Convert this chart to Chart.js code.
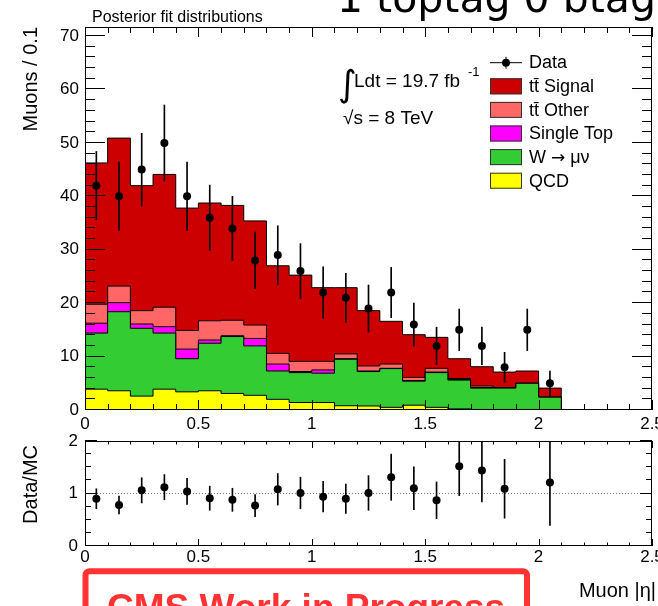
<!DOCTYPE html>
<html>
<head>
<meta charset="utf-8">
<script src="https://cdn.jsdelivr.net/npm/chart.js@4.4.1/dist/chart.umd.min.js"></script>
<style>
  html, body { margin: 0; padding: 0; background: #fff; }
  body { width: 658px; height: 606px; position: relative; overflow: hidden; }
  #mainCanvas { position: absolute; left: 0; top: 0; }
  #ratioCanvas { position: absolute; left: 0; top: 420px; }
</style>
</head>
<body>
<canvas id="mainCanvas" width="658" height="440"></canvas>
<canvas id="ratioCanvas" width="658" height="186"></canvas>
<script>
// binning in muon |eta|
const binEdges = [0, 0.1, 0.2, 0.3, 0.4, 0.5, 0.6, 0.7, 0.8, 0.9, 1.0, 1.1, 1.2, 1.3, 1.4, 1.5, 1.6, 1.7, 1.8, 1.9, 2.0, 2.1];
const binCenters = [0.05, 0.15, 0.25, 0.35, 0.45, 0.55, 0.65, 0.75, 0.85, 0.95, 1.05, 1.15, 1.25, 1.35, 1.45, 1.55, 1.65, 1.75, 1.85, 1.95, 2.05];

// posterior fit components (muons / 0.1)
const qcd       = [3.9, 3.6, 2.6, 3.9, 3.4, 3.6, 3.1, 2.75, 2.0, 1.4, 1.4, 0.8, 0.75, 0.5, 0.9, 0.5, 0.2, 0.1, 0.1, 0.1, 0.0];
const wMuNu     = [10.5, 14.8, 12.7, 10.5, 6.2, 8.9, 10.65, 9.25, 5.3, 5.6, 5.5, 8.7, 6.45, 7.25, 4.5, 6.5, 5.4, 4.0, 4.0, 4.9, 2.4];
const singleTop = [1.85, 1.7, 0.8, 1.2, 1.8, 0.6, 0.15, 1.4, 1.3, 0.2, 0.6, 0.1, 0.1, 0.05, 0.1, 0.1, 0.1, 0.1, 0.0, 0.0, 0.0];
const ttOther   = [3.55, 3.1, 2.5, 3.65, 3.5, 3.6, 2.9, 2.5, 2.0, 1.9, 1.6, 0.9, 0.95, 0.8, 0.6, 0.7, 0.2, 0.3, 0.1, 0.0, 0.0];
const ttSignal  = [26.45, 27.7, 23.4, 24.85, 22.9, 22.05, 21.5, 19.5, 16.4, 16.15, 13.8, 12.4, 10.35, 8.0, 8.0, 5.8, 3.7, 3.6, 2.9, 2.3, 1.7];

// data
const dataCounts = [42, 40, 45, 50, 40, 36, 34, 28, 29, 26, 22, 21, 19, 22, 16, 12, 15, 12, 8, 15, 5];
const dataErr    = [6.4, 6.4, 6.8, 7.1, 6.4, 6.1, 6.0, 5.3, 5.5, 5.15, 4.8, 4.6, 4.4, 4.7, 4.0, 3.5, 3.9, 3.5, 2.8, 3.9, 2.3];

// data / MC
const ratioVals = [0.90, 0.78, 1.06, 1.12, 1.04, 0.91, 0.88, 0.77, 1.08, 1.01, 0.94, 0.90, 1.01, 1.31, 1.10, 0.87, 1.52, 1.44, 1.09, null, 1.21];
const ratioErr  = [0.19, 0.17, 0.24, 0.24, 0.25, 0.23, 0.22, 0.21, 0.30, 0.30, 0.29, 0.28, 0.33, 0.44, 0.41, 0.35, 0.56, 0.60, 0.56, null, 0.82];
const ratioRefLine = [{ x: 0, y: 1 }, { x: 2.5, y: 1 }];

// ticks
const xTicks = [0, 0.5, 1, 1.5, 2, 2.5];
const yTicksMain = [0, 10, 20, 30, 40, 50, 60, 70];
const yTicksRatio = [0, 1, 2];

const stackComponents = [qcd, wMuNu, singleTop, ttOther, ttSignal]; // bottom -> top
const stackLabels = ['QCD', 'W \u2192 \u03bc\u03bd', 'Single Top', 't\u0074\u0304 Other', 't\u0074\u0304 Signal'];
const stackColors = ['#ffff00', '#33cc33', '#ff00ff', '#ff6666', '#cc0000'];

const tickFont = { family: 'Liberation Sans', size: 17 };

// cumulative step outlines filled down to zero
let running = binCenters.map(() => 0);
const stackDatasets = stackComponents.map((vals, k) => {
  running = running.map((r, i) => r + vals[i]);
  const pts = running.map((v, i) => ({ x: binEdges[i], y: v }));
  pts.push({ x: binEdges[binEdges.length - 1], y: 0 });
  return {
    type: 'line',
    label: stackLabels[k],
    data: pts,
    stepped: true,
    fill: 'origin',
    backgroundColor: stackColors[k],
    borderColor: '#000',
    borderWidth: 1,
    pointRadius: 0,
    order: 2 + k
  };
});

function errorBarSet(vals, errs) {
  return binCenters.map((x, i) => ({
    x: x,
    y: vals[i] === null ? null : [vals[i] - errs[i], vals[i] + errs[i]]
  }));
}

function pointSet(vals) {
  return binCenters.map((x, i) => ({ x: x, y: vals[i] }));
}

// ROOT style frame with inward ticks on all four sides
const rootAxes = {
  id: 'rootAxes',
  afterDatasetsDraw(chart, args, o) {
    const { ctx, chartArea: a, scales: { x, y } } = chart;
    ctx.save();
    ctx.strokeStyle = '#000';
    ctx.lineWidth = 1;
    ctx.beginPath();
    const nx = Math.round((x.max - x.min) / o.xMinor);
    for (let i = 0; i <= nx; i++) {
      const v = x.min + i * o.xMinor;
      const px = Math.round(x.getPixelForValue(v)) + 0.5;
      const r = v / o.xMajor;
      const len = Math.abs(r - Math.round(r)) < 1e-6 ? o.xMajorLen : o.xMinorLen;
      ctx.moveTo(px, a.bottom); ctx.lineTo(px, a.bottom - len);
      ctx.moveTo(px, a.top); ctx.lineTo(px, a.top + len);
    }
    const ny = Math.floor((y.max - y.min) / o.yMinor + 1e-6);
    for (let i = 0; i <= ny; i++) {
      const v = y.min + i * o.yMinor;
      const py = Math.round(y.getPixelForValue(v)) - 0.5;
      const r = v / o.yMajor;
      const len = Math.abs(r - Math.round(r)) < 1e-6 ? o.yMajorLen : o.yMinorLen;
      ctx.moveTo(a.left, py); ctx.lineTo(a.left + len, py);
      ctx.moveTo(a.right, py); ctx.lineTo(a.right - len, py);
    }
    ctx.stroke();
    ctx.strokeRect(a.left + 0.5, a.top + 0.5, a.right - a.left - 1, a.bottom - a.top - 1);
    ctx.restore();
  }
};

// legend text; the arrow is taken from DejaVu so it has full length
function legendText(ctx, text, x, y) {
  const parts = text.split('\u2192');
  if (parts.length === 1) { ctx.fillText(text, x, y); return; }
  ctx.fillText(parts[0], x, y);
  let cx = x + ctx.measureText(parts[0]).width;
  const base = ctx.font;
  ctx.font = '17px "DejaVu Sans"';
  ctx.fillText('\u2192', cx, y);
  cx += ctx.measureText('\u2192').width;
  ctx.font = base;
  ctx.fillText(parts[1], cx, y);
}

const mainText = {
  id: 'mainText',
  afterDraw(chart) {
    const ctx = chart.ctx;
    ctx.save();
    ctx.fillStyle = '#000';
    ctx.textBaseline = 'alphabetic';

    ctx.font = '41px "DejaVu Sans"';
    ctx.fillText('1 toptag 0 btag', 337, 12);

    ctx.font = '16px "Liberation Sans"';
    ctx.fillText('Posterior fit distributions', 92, 22);

    // luminosity / energy
    ctx.font = '36px "DejaVu Sans"';
    ctx.fillText('\u222b', 338, 96);
    ctx.font = '19px "Liberation Sans"';
    ctx.fillText('Ldt = 19.7 fb', 354, 87);
    ctx.fillText('\u221as = 8 TeV', 343, 124);
    ctx.font = '13px "Liberation Sans"';
    ctx.fillText('-1', 468, 76);

    // legend
    const rowY = (i) => 62.7 + i * 23.6;
    ctx.strokeStyle = '#000';
    ctx.lineWidth = 1;
    ctx.beginPath();
    ctx.moveTo(490, rowY(0)); ctx.lineTo(522, rowY(0));
    ctx.moveTo(506, rowY(0) - 6); ctx.lineTo(506, rowY(0) + 6);
    ctx.stroke();
    ctx.beginPath();
    ctx.arc(506, rowY(0), 4, 0, Math.PI * 2);
    ctx.fill();
    ctx.font = '18px "Liberation Sans"';
    ctx.textBaseline = 'middle';
    ctx.fillText('Data', 529, rowY(0));
    for (let k = stackComponents.length - 1, row = 1; k >= 0; k--, row++) {
      const cy = rowY(row);
      ctx.fillStyle = stackColors[k];
      ctx.fillRect(490, cy - 8, 32, 16);
      ctx.strokeStyle = '#333';
      ctx.strokeRect(490.5, cy - 7.5, 31, 15);
      ctx.fillStyle = '#000';
      legendText(ctx, stackLabels[k], 529, cy + 1);
    }

    // y axis title
    ctx.translate(31, 27);
    ctx.rotate(-Math.PI / 2);
    ctx.textAlign = 'right';
    ctx.font = '20px "Liberation Sans"';
    ctx.fillText('Muons / 0.1', 0, 0);
    ctx.restore();
  }
};

const ratioText = {
  id: 'ratioText',
  afterDraw(chart) {
    const ctx = chart.ctx;
    ctx.save();
    ctx.fillStyle = '#000';
    ctx.font = '20px "Liberation Sans"';
    ctx.textAlign = 'right';
    ctx.textBaseline = 'alphabetic';
    ctx.fillText('Muon |\u03b7|', 656, 177);

    // work in progress box
    ctx.strokeStyle = '#ff3333';
    ctx.lineWidth = 6;
    ctx.beginPath();
    ctx.roundRect(85.5, 151.3, 441.5, 100, 4);
    ctx.stroke();
    ctx.fillStyle = '#ff3333';
    ctx.textAlign = 'left';
    ctx.font = 'bold 37px "Liberation Sans"';
    ctx.fillText('CMS Work in Progress', 107, 199.5);

    ctx.fillStyle = '#000';
    ctx.translate(31, 25);
    ctx.rotate(-Math.PI / 2);
    ctx.textAlign = 'right';
    ctx.textBaseline = 'middle';
    ctx.font = '20px "Liberation Sans"';
    ctx.fillText('Data/MC', 0, 0);
    ctx.restore();
  }
};

function xScale(labelPad, height) {
  return {
    type: 'linear', min: 0, max: 2.5, offset: false,
    grid: { display: false, drawTicks: false }, border: { display: false },
    ticks: { padding: labelPad, font: tickFont, color: '#000', maxRotation: 0, autoSkip: false, callback: (v) => String(v) },
    afterBuildTicks: (s) => { s.ticks = xTicks.map((v) => ({ value: v })); },
    afterFit: (s) => { s.height = height; s.paddingLeft = 0; s.paddingRight = 0; }
  };
}

function yScale(max, ticks, labelPad) {
  return {
    type: 'linear', min: 0, max: max,
    grid: { display: false, drawTicks: false }, border: { display: false },
    ticks: { padding: labelPad, font: tickFont, color: '#000', callback: (v) => String(v) },
    afterBuildTicks: (s) => { s.ticks = ticks.map((v) => ({ value: v })); },
    afterFit: (s) => { s.width = 85; s.paddingTop = 0; s.paddingBottom = 0; }
  };
}

new Chart(document.getElementById('mainCanvas'), {
  type: 'line',
  data: {
    datasets: [
      {
        type: 'line', label: 'Data', data: pointSet(dataCounts), showLine: false,
        pointRadius: 4, pointBackgroundColor: '#000', pointBorderWidth: 0, order: 0
      },
      {
        type: 'bar', label: 'Data err', data: errorBarSet(dataCounts, dataErr),
        backgroundColor: '#000', barThickness: 1, grouped: false, order: 1
      },
      ...stackDatasets
    ]
  },
  options: {
    responsive: false,
    animation: false,
    layout: { padding: { left: 0, right: 6, top: 27, bottom: 0 } },
    plugins: {
      legend: { display: false },
      tooltip: { enabled: false },
      rootAxes: { xMinor: 0.1, xMajor: 0.5, xMajorLen: 10, xMinorLen: 6, yMinor: 2, yMajor: 10, yMajorLen: 20, yMinorLen: 10 }
    },
    scales: {
      x: xScale(4, 30),
      y: yScale(71.7, yTicksMain, 6)
    }
  },
  plugins: [rootAxes, mainText]
});

new Chart(document.getElementById('ratioCanvas'), {
  type: 'line',
  data: {
    datasets: [
      {
        type: 'line', label: 'Data/MC', data: pointSet(ratioVals), showLine: false,
        pointRadius: 4, pointBackgroundColor: '#000', pointBorderWidth: 0, order: 0
      },
      {
        type: 'bar', label: 'Data/MC err', data: errorBarSet(ratioVals, ratioErr),
        backgroundColor: '#000', barThickness: 1, grouped: false, order: 1
      },
      {
        type: 'line', label: 'unity', data: ratioRefLine, borderColor: '#777', borderWidth: 1,
        borderDash: [1, 2], pointRadius: 0, fill: false, order: 2
      }
    ]
  },
  options: {
    responsive: false,
    animation: false,
    layout: { padding: { left: 0, right: 6, top: 21, bottom: 0 } },
    plugins: {
      legend: { display: false },
      tooltip: { enabled: false },
      rootAxes: { xMinor: 0.1, xMajor: 0.5, xMajorLen: 7, xMinorLen: 3.5, yMinor: 0.25, yMajor: 1, yMajorLen: 12, yMinorLen: 6 }
    },
    scales: {
      x: xScale(1, 60),
      y: yScale(2, yTicksRatio, 7)
    }
  },
  plugins: [rootAxes, ratioText]
});
</script>
</body>
</html>
